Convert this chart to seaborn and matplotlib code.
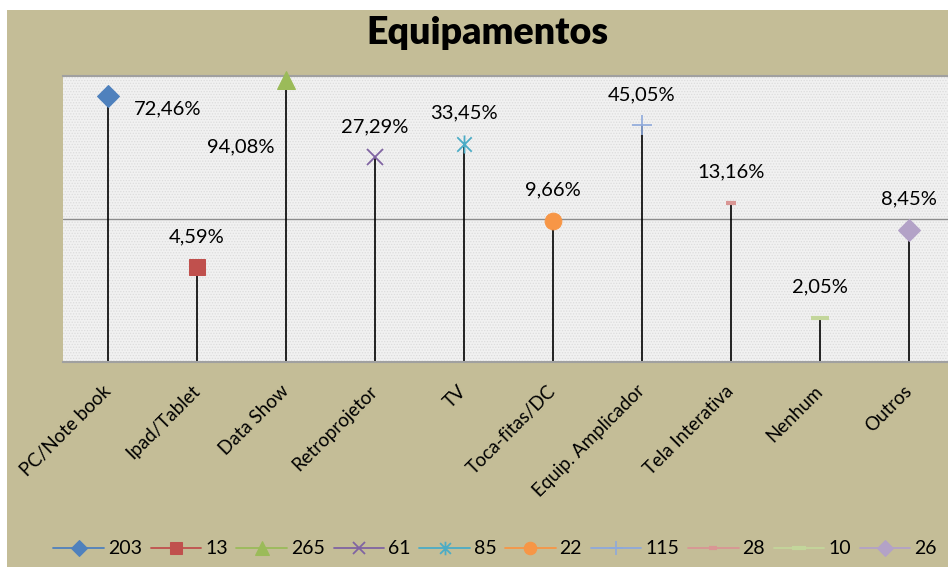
import numpy as np
import pandas as pd
import seaborn as sns
import matplotlib.pyplot as plt
from matplotlib.path import Path
from matplotlib.patches import Rectangle

# dados
categorias = ["PC/Note book", "Ipad/Tablet", "Data Show", "Retroprojetor", "TV",
              "Toca-fitas/DC", "Equip. Amplicador", "Tela Interativa", "Nenhum", "Outros"]
respostas = [203, 13, 265, 61, 85, 22, 115, 28, 10, 26]
percentuais = [72.46, 4.59, 94.08, 27.29, 33.45, 9.66, 45.05, 13.16, 2.05, 8.45]
# altura de cada marcador (eixo oculto de 0 a 100)
nivel = [93.0, 33.2, 98.6, 71.7, 76.2, 49.3, 82.9, 55.6, 15.4, 46.2]

df = pd.DataFrame({"cat": categorias, "n": respostas, "pct": percentuais, "nivel": nivel})
df["x"] = np.arange(len(df))

sns.set_theme(style="white")
plt.rcParams["font.family"] = ["Lato", "DejaVu Sans"]
plt.rcParams["text.color"] = "black"
plt.rcParams["xtick.color"] = "black"

# marcador "asterisco" do Excel: x com traco vertical
asterisco = Path([(-1, -1), (1, 1), (-1, 1), (1, -1), (0, -1.25), (0, 1.25)],
                 [Path.MOVETO, Path.LINETO, Path.MOVETO, Path.LINETO, Path.MOVETO, Path.LINETO])

estilos = [
    dict(marker="D", color="#4F81BD", ms=11),
    dict(marker="s", color="#C0504D", ms=12),
    dict(marker="^", color="#9BBB59", ms=13),
    dict(marker="x", color="#8064A2", ms=11, mew=1.3),
    dict(marker=asterisco, color="#4BACC6", ms=13, mew=1.3),
    dict(marker="o", color="#F79646", ms=12),
    dict(marker="+", color="#8EA9DB", ms=14, mew=1.2),
    dict(marker="_", color="#D99694", ms=7, mew=3),
    dict(marker="_", color="#C3D69B", ms=13, mew=3),
    dict(marker="D", color="#B3A2C7", ms=11),
]
# deslocamento dos rotulos em pixels
desloc = [(60, -13), (0, 30), (-45, -67), (0, 30), (0, 31),
          (0, 31), (0, 30), (0, 31), (0, 31), (0, 31)]

fig = plt.figure(figsize=(9.48, 5.67), dpi=100, facecolor="white")
fig.patches.append(Rectangle((7 / 948, 0), 1, 1 - 10 / 567, transform=fig.transFigure,
                             facecolor="#C4BD97", edgecolor="none", zorder=-10))
ax = fig.add_axes([63 / 948, (567 - 362) / 567, (948 - 63) / 948, 286 / 567])
ax.set_facecolor("#F0F0F0")
plt.rcParams["hatch.linewidth"] = 0.6
ax.add_patch(Rectangle((0, 0), 1, 1, transform=ax.transAxes, facecolor="#F1F1F1",
                       edgecolor="#DCDCDC", hatch="......", lw=0, zorder=0))

ax.axhline(50, color="#8C8C8C", lw=1, zorder=1)
ax.vlines(df["x"], 0, df["nivel"], color="black", lw=1.2, zorder=2)

for i, row in df.iterrows():
    st = dict(estilos[i])
    cor = st.pop("color")
    sns.lineplot(x=[row["x"]], y=[row["nivel"]], ax=ax, color=cor, label=str(row["n"]),
                 markeredgecolor=cor, markerfacecolor=cor, lw=1.3, zorder=3, clip_on=False, **st)
    txt = f"{row['pct']:.2f}%".replace(".", ",")
    ax.annotate(txt, (row["x"], row["nivel"]), xytext=desloc[i], textcoords="offset pixels",
                ha="center", va="center", fontsize=14.5, color="black")

ax.set_xlim(-45 / 89, 9 + 39 / 89)
ax.set_ylim(0, 100)
ax.set_yticks([])
ax.set_xticks(df["x"])
ax.set_xticklabels(categorias, rotation=45, ha="right", va="center",
                   rotation_mode="anchor", fontsize=13.5)
ax.tick_params(axis="x", length=0, pad=19)
ax.set_xlabel("")
ax.set_ylabel("")
for lado in ["left", "right"]:
    ax.spines[lado].set_visible(False)
for lado in ["top", "bottom"]:
    ax.spines[lado].set_color("#A0A0A0")
    ax.spines[lado].set_linewidth(1.5)

ax.legend(loc="center", bbox_to_anchor=(495 / 948, (567 - 549) / 567), bbox_transform=fig.transFigure,
          ncol=10, frameon=False, fontsize=14, handlelength=2.6, handletextpad=0.2,
          columnspacing=0.45, numpoints=1, markerscale=0.75)

fig.text(487 / 948, 1 - 33 / 567, "Equipamentos", ha="center", va="center",
         fontsize=27, fontweight="heavy", color="black")

fig.savefig("out.png", dpi=100, facecolor=fig.get_facecolor())
